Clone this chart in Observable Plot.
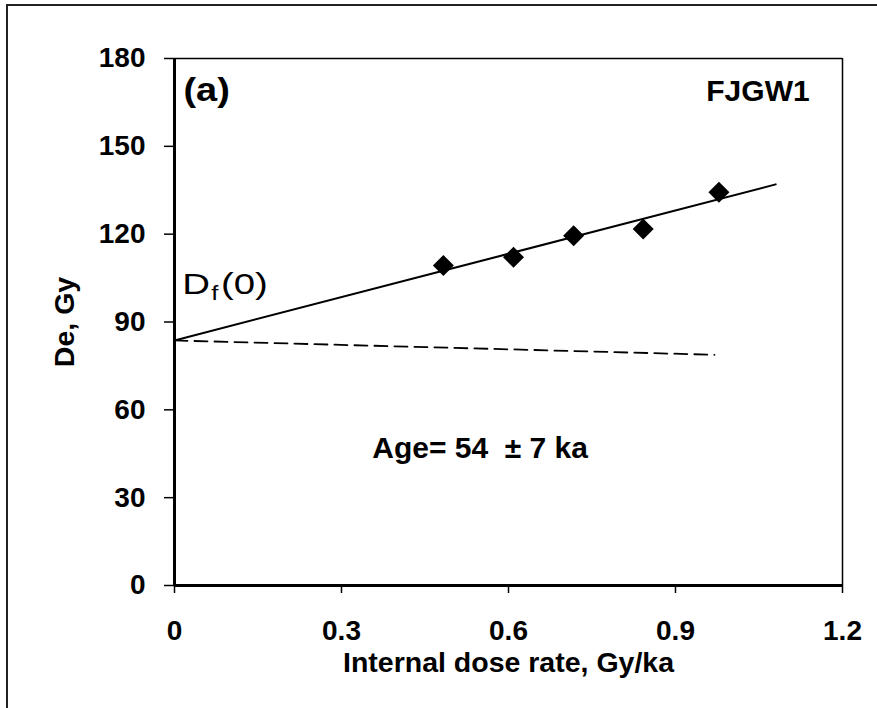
<!DOCTYPE html>
<html>
<head>
<meta charset="utf-8">
<script src="https://cdn.jsdelivr.net/npm/d3@7"></script>
<script src="https://cdn.jsdelivr.net/npm/@observablehq/plot@0.6"></script>
<style>
  html, body { margin: 0; padding: 0; background: #fff; }
  #wrap { position: relative; width: 877px; height: 708px; overflow: hidden; }
  #wrap svg { position: absolute; left: 0; top: 0; }
  #frame { position: absolute; left: 6px; top: 4px; right: -10px; bottom: -10px;
           border-top: 2px solid #222; border-left: 2px solid #222; pointer-events: none; }
</style>
</head>
<body>
<div id="wrap"><div id="frame"></div></div>
<script>
// ---- data ----
const doseRate = [0.483, 0.609, 0.717, 0.842, 0.978];   // Internal dose rate, Gy/ka
const deValues = [109.3, 112.1, 119.5, 121.8, 134.3];   // De, Gy

const fitX = [0, 1.08];          // regression line
const fitY = [83.7, 137.0];
const dashX = [0, 0.97];         // dashed line
const dashY = [83.7, 78.8];

const xDomain = [0, 1.2];
const yDomain = [0, 180];
const xTicks = [0, 0.3, 0.6, 0.9, 1.2];
const xTickLabels = ["0", "0.3", "0.6", "0.9", "1.2"];
const yTicks = [0, 30, 60, 90, 120, 150, 180];
const yTickLabels = ["0", "30", "60", "90", "120", "150", "180"];

const xTitle = "Internal dose rate, Gy/ka";
const yTitle = "De, Gy";
const panelLabel = "(a)";
const sampleLabel = "FJGW1";
const ageLabel = "Age= 54\u00a0 \u00b1 7 ka";
const interceptLabel = "Df(0)";

// ---- build ----
const FONT = "'Liberation Sans', Arial, Helvetica, sans-serif";

const points = doseRate.map((x, i) => ({x, y: deValues[i]}));
const fit = fitX.map((x, i) => ({x, y: fitY[i]}));
const dash = dashX.map((x, i) => ({x, y: dashY[i]}));

const diamond = {
  draw(ctx, size) {
    const r = Math.sqrt(size / Math.PI);
    ctx.moveTo(0, -r); ctx.lineTo(r, 0); ctx.lineTo(0, r); ctx.lineTo(-r, 0); ctx.closePath();
  }
};

const chart = Plot.plot({
  width: 877,
  height: 708,
  marginLeft: 174,
  marginRight: 35,
  marginTop: 58,
  marginBottom: 123,
  style: {fontFamily: FONT, background: "transparent", color: "#000"},
  x: {domain: xDomain},
  y: {domain: yDomain},
  marks: [
    Plot.ruleY([yDomain[1]], {stroke: "#000", strokeWidth: 1.5}),
    Plot.ruleX([xDomain[1]], {stroke: "#000", strokeWidth: 1.5}),
    Plot.line(dash, {x: "x", y: "y", stroke: "#000", strokeWidth: 1.8, strokeDasharray: "13,7"}),
    Plot.line(fit, {x: "x", y: "y", stroke: "#000", strokeWidth: 2}),
    Plot.dot(points, {x: "x", y: "y", symbol: diamond, r: 10.5, fill: "#000", stroke: "none"}),
    Plot.axisX({
      ticks: xTicks, tickFormat: d => xTickLabels[xTicks.indexOf(d)],
      tickSize: 8, tickPadding: 27, strokeWidth: 1.5, stroke: "#000",
      fontSize: 28, fontWeight: "bold", fill: "#000", label: null
    }),
    Plot.axisY({
      ticks: yTicks, tickFormat: d => yTickLabels[yTicks.indexOf(d)],
      tickSize: 10, tickPadding: 19, strokeWidth: 1.5, stroke: "#000",
      fontSize: 28, fontWeight: "bold", fill: "#000", label: null
    }),
    Plot.ruleX([xDomain[0]], {stroke: "#000", strokeWidth: 3}),
    Plot.ruleY([yDomain[0]], {stroke: "#000", strokeWidth: 3}),
    Plot.text([xTitle], {frameAnchor: "bottom", dy: 86, lineAnchor: "bottom", textAnchor: "middle",
      fontSize: 28.5, fontWeight: "bold", fill: "#000"}),
    Plot.text([yTitle], {frameAnchor: "left", dx: -101, rotate: -90, lineAnchor: "bottom", textAnchor: "middle",
      fontSize: 28.5, fontWeight: "bold", fill: "#000"}),
    Plot.text([panelLabel], {x: 0.016, y: 165.5, textAnchor: "start", lineAnchor: "bottom",
      fontSize: 33, fontWeight: "bold", fill: "#000"}),
    Plot.text([sampleLabel], {x: 1.141, y: 165.6, textAnchor: "end", lineAnchor: "bottom",
      fontSize: 30, fontWeight: "bold", fill: "#000"}),
    Plot.text([ageLabel], {x: 0.549, y: 43.4, textAnchor: "middle", lineAnchor: "bottom",
      fontSize: 30, fontWeight: "bold", fill: "#000"}),
    Plot.text([interceptLabel], {x: 0.014, y: 99.7, textAnchor: "start", lineAnchor: "bottom",
      fontSize: 30, fontWeight: "normal", fill: "#000"})
  ]
});

function stretchX(t, s) {
  const tr = t.getAttribute("transform");
  if (tr) {
    t.setAttribute("transform", tr + ` scale(${s},1)`);
  } else {
    const x = t.getAttribute("x") || 0, y = t.getAttribute("y") || 0;
    t.removeAttribute("x"); t.removeAttribute("y");
    t.setAttribute("transform", `translate(${x},${y}) scale(${s},1)`);
  }
}

chart.querySelectorAll("text").forEach(t => {
  if (t.textContent === interceptLabel) {
    // D with subscript f, then (0); lettering is wide in the reference
    while (t.firstChild) t.removeChild(t.firstChild);
    const ns = "http://www.w3.org/2000/svg";
    const a = document.createElementNS(ns, "tspan"); a.textContent = "D";
    const b = document.createElementNS(ns, "tspan"); b.textContent = "f";
    b.setAttribute("font-size", "20"); b.setAttribute("dy", "6"); b.setAttribute("dx", "1");
    const c = document.createElementNS(ns, "tspan"); c.textContent = "(0)";
    c.setAttribute("dy", "-6"); c.setAttribute("dx", "2");
    t.appendChild(a); t.appendChild(b); t.appendChild(c);
    stretchX(t, 1.28);
  } else if (t.textContent === panelLabel) {
    stretchX(t, 1.15);
  }
});

document.getElementById("wrap").insertBefore(chart, document.getElementById("frame"));
</script>
</body>
</html>
